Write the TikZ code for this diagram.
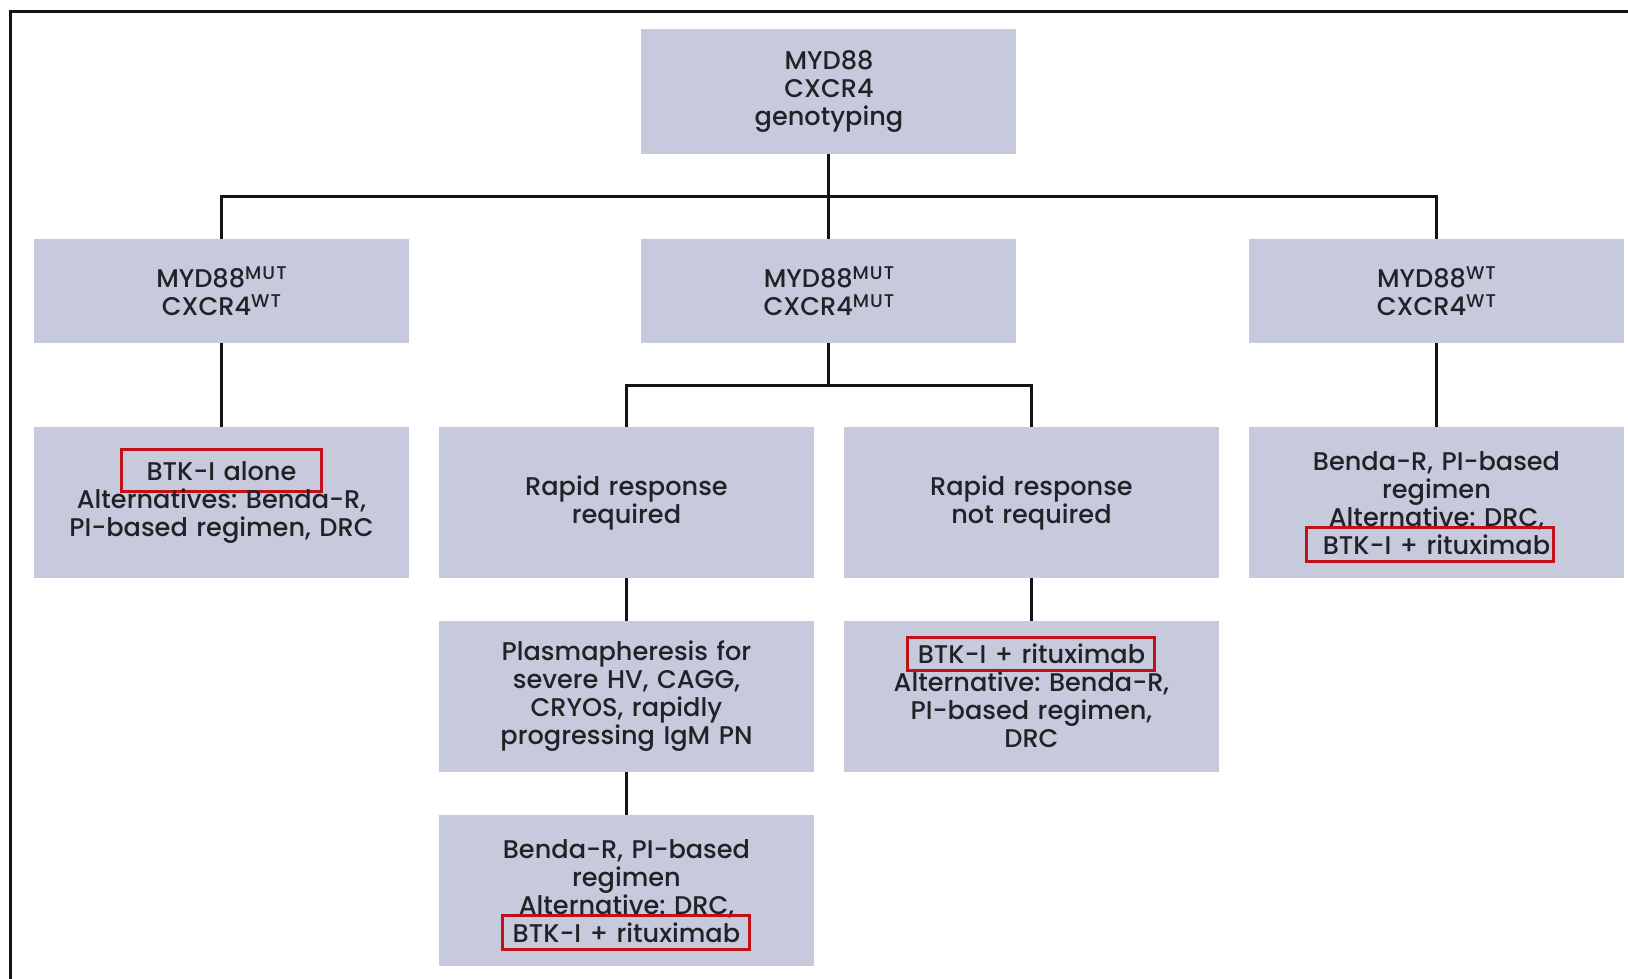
\documentclass[tikz,border=0pt]{standalone}
\usepackage{fontspec}
\usepackage{tikz-qtree}
\setmainfont{Poppins Medium}
\frenchspacing
\definecolor{boxfill}{RGB}{199,201,221}
\definecolor{txtgray}{RGB}{34,34,38}
\definecolor{linegray}{RGB}{20,20,20}
\definecolor{hlred}{RGB}{192,16,24}
\newcommand{\hl}[3][0pt]{\raisebox{0pt}[9pt][0pt]{\textcolor{hlred}{%
    \setlength{\fboxrule}{1.5pt}\setlength{\fboxsep}{#1}%
    \fbox{\textcolor{txtgray}{\makebox[#2]{\rule[-2.75pt]{0pt}{15.25pt}#3}}}}}}
\newcommand{\gt}[1]{\raisebox{3.8pt}{\fontsize{9.2}{10}\selectfont\addfontfeatures{LetterSpace=6}#1}}
\tikzset{every tree node/.style={fill=boxfill,text=txtgray,text width=187.5pt,
        inner sep=0pt,outer sep=0pt,align=center,anchor=north,minimum height=75.5pt,
        font=\fontsize{12.8}{14}\selectfont},
    genobox/.style={minimum height=52pt,yshift=-3pt},
    edge from parent/.style={draw=linegray,line width=1.5pt,
        edge from parent path={(\tikzparentnode.south) -- ++(0,-21pt) -| (\tikzchildnode.north)}}}

\begin{document}
\begin{tikzpicture}[sibling distance=15pt,level distance=97pt]

    \useasboundingbox (-414.5pt,-470pt) rectangle (399.5pt,19.5pt);
    \draw[linegray,line width=1.5pt] (-409pt,-470pt) -- (-409pt,13.5pt) -- (399.5pt,13.5pt);

        \Tree
            [.\node[minimum height=62.5pt,yshift=5pt](geno){MYD88\\CXCR4\\genotyping};
                [.\node[genobox](mutwt){MYD88\gt{MUT}\\CXCR4\gt{WT}};
                    \node(btkalone){\hl[2pt]{94.5pt}{BTK-I alone}\\Alternatives: Benda-R,\\PI-based regimen, DRC};
                ]
                [.\node[genobox](mutmut){MYD88\gt{MUT}\\CXCR4\gt{MUT}};
                    [.\node(rapid){Rapid response\\required};
                        [.\node(plasma){Plasmapheresis for\\severe HV, CAGG,\\CRYOS, rapidly\\progressing IgM PN};
                            \node(bendamid){Benda-R, PI-based\\regimen\\Alternative: DRC,\\\hl{122pt}{BTK-I + rituximab}};
                        ]
                    ]
                    [.\node(notrapid){Rapid response\\not required};
                        \node(btkrit){\hl{122pt}{BTK-I + rituximab}\\Alternative: Benda-R,\\PI-based regimen,\\DRC};
                    ]
                ]
                [.\node[genobox](wtwt){MYD88\gt{WT}\\CXCR4\gt{WT}};
                    \node(bendawt){Benda-R, PI-based\\regimen\\Alternative: DRC,\\\hspace*{-6pt}\hl{122pt}{\hspace{6pt}BTK-I + rituximab}};
                ]
            ]

\end{tikzpicture}
\end{document}
